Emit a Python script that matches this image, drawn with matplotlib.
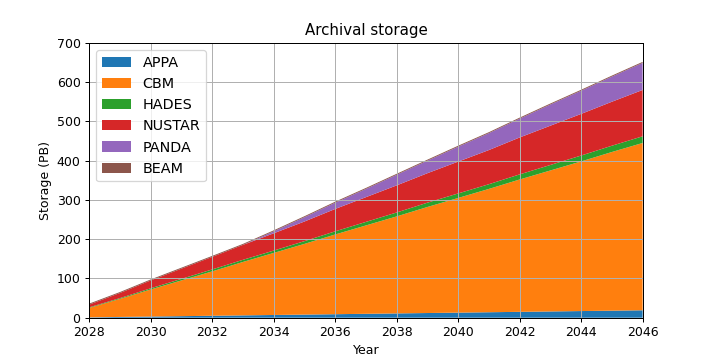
import matplotlib
matplotlib.use("Agg")
import matplotlib.pyplot as plt
import numpy as np

years = list(range(2028, 2047))
labels = ["APPA", "CBM", "HADES", "NUSTAR", "PANDA", "BEAM"]

appa = [1, 2, 3, 4, 5, 6, 7, 8, 9, 10, 11, 12, 13, 14, 15, 16, 17, 18, 19]
cbm = [24, 46, 69, 91, 113, 136, 158, 180, 203, 225, 247, 270, 292, 314, 337, 359, 381, 404, 426]
hades = [1.5, 2, 3, 4, 5, 5.5, 6, 7, 8, 9, 10, 11, 11.5, 12, 13, 14, 15, 16, 17]
nustar = [7, 13, 20, 26, 32, 38, 44, 50, 57, 63, 69, 75, 81, 87, 94, 100, 106, 112, 118]
panda = [0, 0, 0, 0, 0, 0, 5, 11, 16, 21, 27, 32, 38, 43, 48, 54, 59, 64, 69]
beam = [2.5, 2.5, 2.5, 2.5, 2.5, 2.5, 2.5, 2.5, 2.5, 2.5, 2.5, 2.5, 2.5, 2.5, 2.5, 2.5, 2.5, 2.5, 2.5]

fig, ax = plt.subplots(figsize=(714 / 90, 357 / 90), dpi=90)

ax.stackplot(years, appa, cbm, hades, nustar, panda, beam, labels=labels)

ax.set_xlim(2028, 2046)
ax.set_ylim(0, 700)
ax.set_xticks(np.arange(2028, 2047, 2))
ax.set_xlabel("Year")
ax.set_ylabel("Storage (PB)")
ax.set_title("Archival storage")
ax.legend(loc="upper left", fontsize=11.5)
ax.grid(True)

plt.savefig("out.png")
